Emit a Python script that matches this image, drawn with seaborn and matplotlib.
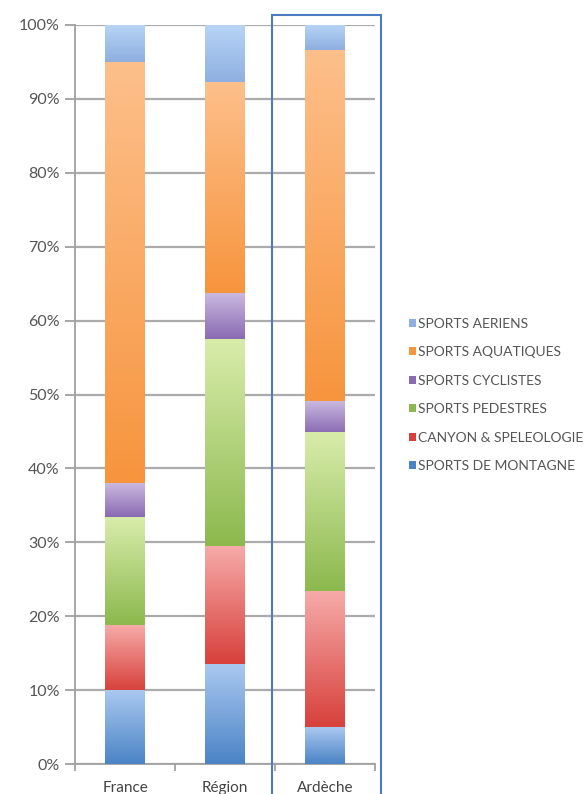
import numpy as np
import pandas as pd
import matplotlib
matplotlib.use("Agg")
import matplotlib.pyplot as plt
from matplotlib.colors import LinearSegmentedColormap
from matplotlib.patches import Rectangle, Patch
from matplotlib.ticker import FuncFormatter
import seaborn as sns

# ---- data (percent shares, bottom to top) ----
categories = ["France", "Région", "Ardèche"]
series = ["SPORTS DE MONTAGNE", "CANYON & SPELEOLOGIE", "SPORTS PEDESTRES",
          "SPORTS CYCLISTES", "SPORTS AQUATIQUES", "SPORTS AERIENS"]
montagne = [9.9, 13.5, 5.0]
canyon = [8.9, 15.9, 18.4]
pedestres = [14.6, 28.1, 21.4]
cyclistes = [4.5, 6.2, 4.2]
aquatiques = [57.1, 28.5, 47.6]
aeriens = [5.0, 7.8, 3.4]
yticks = [0, 10, 20, 30, 40, 50, 60, 70, 80, 90, 100]

# gradient colours (top, bottom) per series
grad = {
    "SPORTS DE MONTAGNE": ("#a9c8f0", "#4b84c6"),
    "CANYON & SPELEOLOGIE": ("#f6aaa8", "#d8413c"),
    "SPORTS PEDESTRES": ("#d8ecaa", "#8cb94e"),
    "SPORTS CYCLISTES": ("#c9b8e0", "#8a6bb2"),
    "SPORTS AQUATIQUES": ("#fdbf8a", "#f7953e"),
    "SPORTS AERIENS": ("#b7d4f6", "#8eafe0"),
}

values = [montagne, canyon, pedestres, cyclistes, aquatiques, aeriens]
df = pd.DataFrame({s: v for s, v in zip(series, values)}, index=categories)
cum = df.cumsum(axis=1)

sns.set_style("white")
plt.rcParams["font.family"] = ["Lato", "DejaVu Sans"]

fig = plt.figure(figsize=(5.86, 7.94), dpi=100)
ax = fig.add_axes([75 / 586, 1 - 764 / 794, 300 / 586, 739 / 794])

# draw cumulative bars from top series down so lower ones overlay
for s in reversed(series):
    d = pd.DataFrame({"cat": categories, "val": cum[s].values})
    sns.barplot(data=d, x="cat", y="val", color=grad[s][1], width=0.4,
                ax=ax, zorder=2, edgecolor="none", saturation=1)

# gradient overlays for the visible segment of each bar
patches = list(ax.patches)
n = len(categories)
for k, s in enumerate(reversed(series)):
    cmap = LinearSegmentedColormap.from_list(s, [grad[s][1], grad[s][0]])
    idx = series.index(s)
    for j in range(n):
        p = patches[k * n + j]
        x0 = p.get_x()
        x1 = x0 + p.get_width()
        top = cum[s].values[j]
        bot = cum[series[idx - 1]].values[j] if idx > 0 else 0.0
        img = np.linspace(0, 1, 64).reshape(-1, 1)
        ax.imshow(img, cmap=cmap, origin="lower", aspect="auto",
                  extent=[x0, x1, bot, top], zorder=3, interpolation="bilinear")

ax.set_xlim(-0.5, 2.5)
ax.set_ylim(0, 100)
ax.set_yticks(yticks)
ax.yaxis.set_major_formatter(FuncFormatter(lambda v, _: f"{int(v)}%"))
ax.grid(axis="y", color="#ababab", linewidth=1.6, zorder=0)
ax.set_axisbelow(True)
ax.set_xlabel("")
ax.set_ylabel("")
for sp in ["top", "right"]:
    ax.spines[sp].set_visible(False)
for sp in ["left", "bottom"]:
    ax.spines[sp].set_color("#a0a0a0")
    ax.spines[sp].set_linewidth(1.3)

ax.tick_params(axis="y", which="major", left=True, length=7, width=1.3,
               color="#a0a0a0", labelsize=11.5, labelcolor="#555555", pad=4)
ax.set_xticks([0, 1, 2])
ax.set_xticklabels(categories)
ax.tick_params(axis="x", which="major", bottom=False, labelsize=11,
               labelcolor="#444444", pad=9)
ax.set_xticks([-0.5, 0.5, 1.5, 2.5], minor=True)
ax.tick_params(axis="x", which="minor", bottom=True, length=5, width=1.3,
               color="#a0a0a0")

# legend
handles = [Patch(facecolor=grad[s][1], edgecolor="none") for s in reversed(series)]
leg = fig.legend(handles, list(reversed(series)), loc="upper left",
                 bbox_to_anchor=(403 / 586, 1 - 312 / 794), frameon=False,
                 fontsize=10, handlelength=0.5, handleheight=0.5,
                 handletextpad=0.15, labelspacing=1.19, borderaxespad=0)
for t in leg.get_texts():
    t.set_color("#555555")

# highlight box around Ardèche
fig.add_artist(Rectangle((272 / 586, -0.01), 109 / 586, 1 - 15 / 794 + 0.01,
                         transform=fig.transFigure, fill=False,
                         edgecolor="#4a7cc4", linewidth=1.5, clip_on=False))

fig.savefig("out.png", dpi=100)
